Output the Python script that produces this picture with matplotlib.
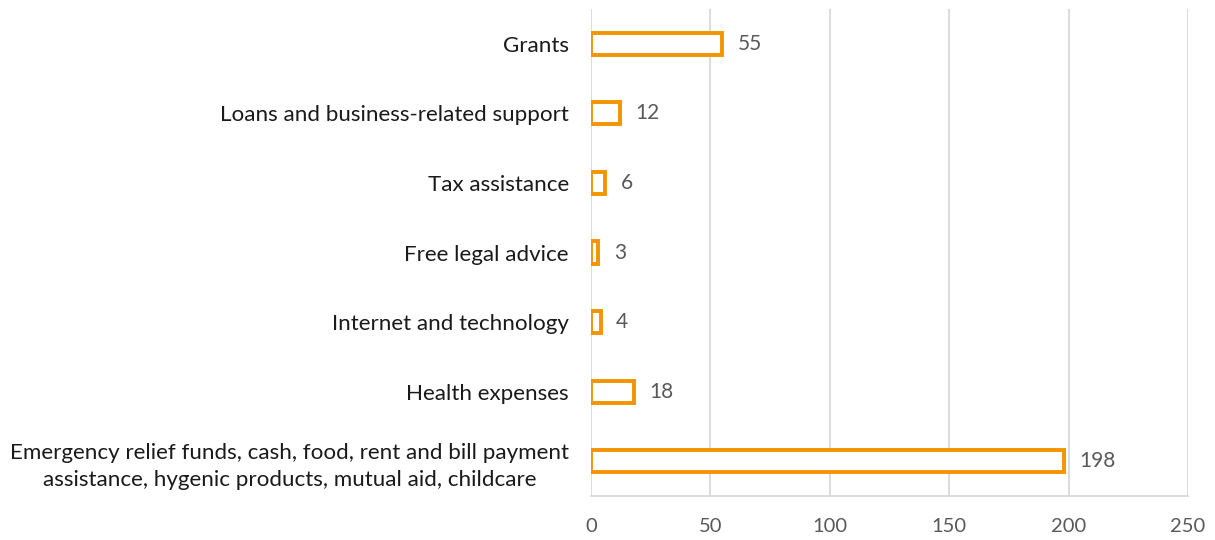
import matplotlib
matplotlib.use("Agg")
import matplotlib.pyplot as plt

categories = [
    "Grants",
    "Loans and business-related support",
    "Tax assistance",
    "Free legal advice",
    "Internet and technology",
    "Health expenses",
    "Emergency relief funds, cash, food, rent and bill payment\nassistance, hygenic products, mutual aid, childcare",
]
counts = [55, 12, 6, 3, 4, 18, 198]
xticks = [0, 50, 100, 150, 200, 250]

plt.rcParams["font.family"] = ["Lato", "DejaVu Sans"]

fig = plt.figure(figsize=(12.15, 5.4), dpi=100)
ax = fig.add_axes([0.4864, 0.0815, 0.4914, 0.9018])

orange = "#F39400"
ypos = list(range(len(categories)))
ax.barh(ypos, counts, height=0.32, facecolor="white", edgecolor=orange,
        linewidth=2.8, zorder=3)

for y, v in zip(ypos, counts):
    ax.text(v + 6.5, y, str(v), va="center", ha="left", fontsize=15,
            color="#595959")

ax.set_ylim(len(categories) - 0.5, -0.5)
ax.set_xlim(0, 250)
ax.set_xticks(xticks)
ax.set_yticks(ypos)
ax.set_yticklabels(categories, fontsize=16.1, color="#1a1a1a", ha="right",
                   multialignment="center", linespacing=1.4)
ax.tick_params(axis="y", length=0, pad=16)
ax.tick_params(axis="x", length=0, labelsize=14.5, labelcolor="#595959", pad=16)

ax.grid(axis="x", color="#d9d9d9", linewidth=1.3, zorder=0)
for s in ["top", "right", "left"]:
    ax.spines[s].set_visible(False)
ax.spines["bottom"].set_color("#d9d9d9")
ax.spines["bottom"].set_linewidth(1.3)

fig.savefig("out.png", dpi=100, facecolor="white")
